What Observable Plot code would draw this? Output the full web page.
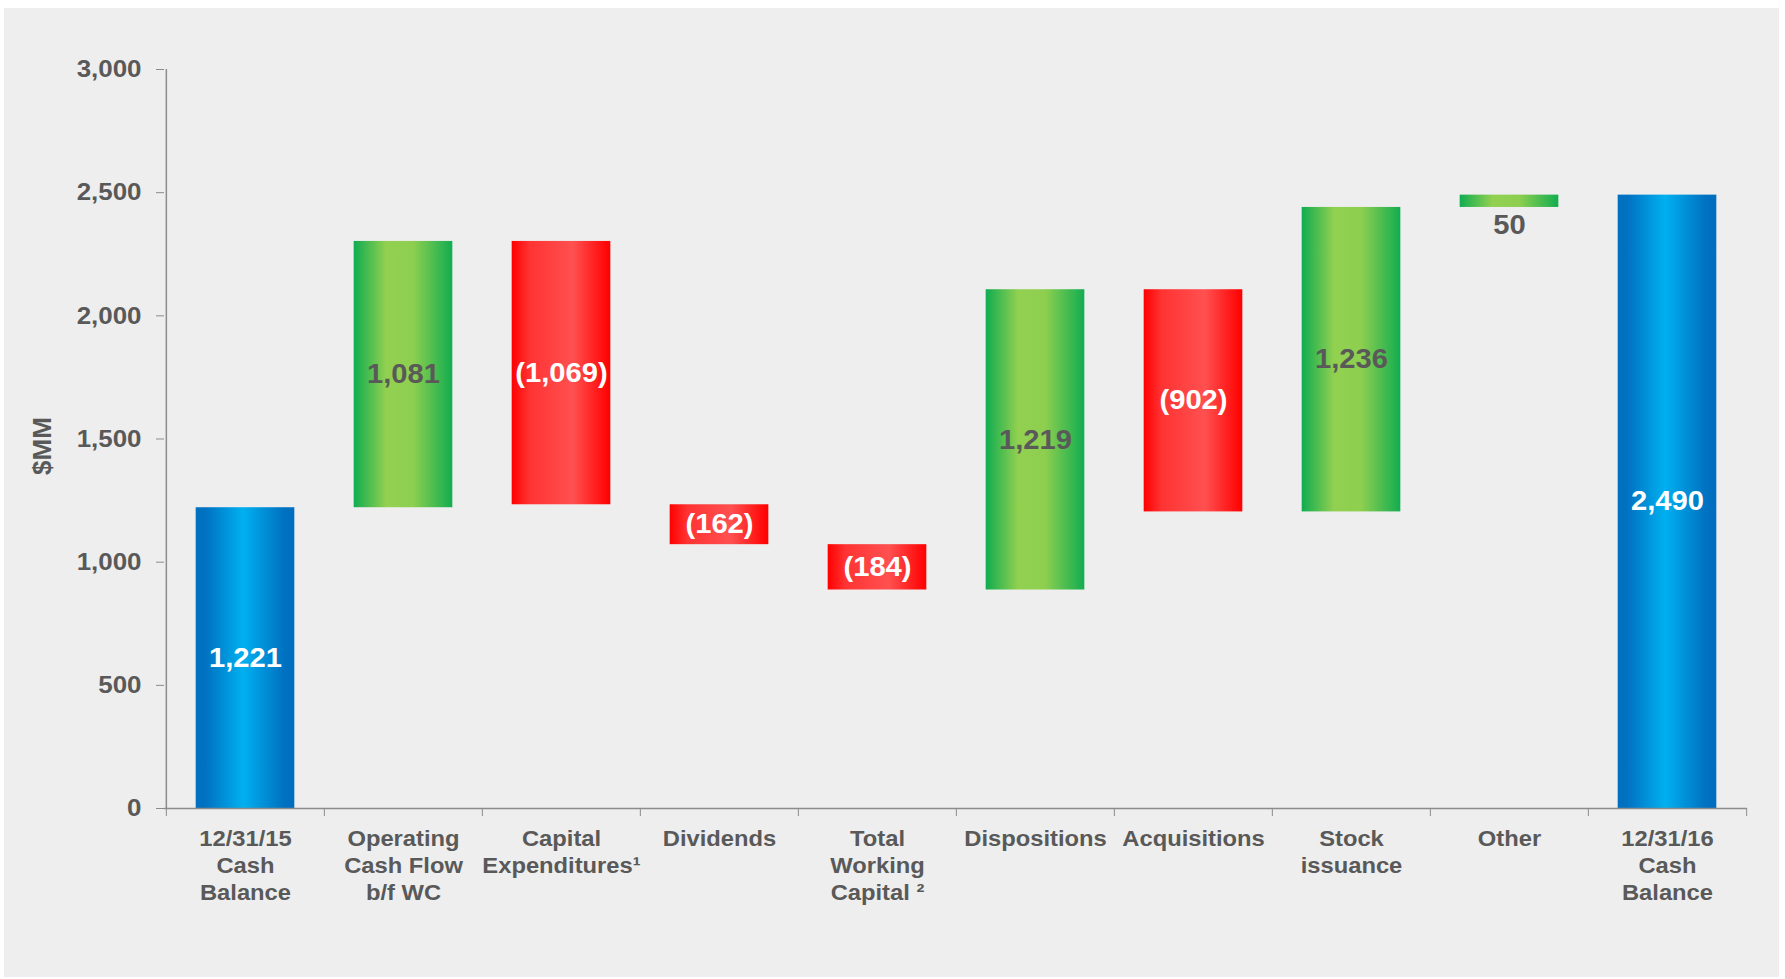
<!DOCTYPE html>
<html><head><meta charset="utf-8">
<script src="https://cdn.jsdelivr.net/npm/d3@7"></script>
<script src="https://cdn.jsdelivr.net/npm/@observablehq/plot@0.6"></script>
<style>
html,body{margin:0;padding:0;background:#fff;overflow:hidden;width:1785px;height:979px;}
#panel{position:absolute;left:4px;top:8px;width:1775px;height:969px;background:#eeeeee;}
#chart{position:absolute;left:0;top:0;}
</style></head><body>
<div id="panel"></div><div id="chart"></div>
<script>
const categories = ["12/31/15\nCash\nBalance","Operating\nCash Flow\nb/f WC","Capital\nExpenditures¹","Dividends","Total\nWorking\nCapital ²","Dispositions","Acquisitions","Stock\nissuance","Other","12/31/16\nCash\nBalance"];
const values = [1221, 1081, -1069, -162, -184, 1219, -902, 1236, 50, 2490];
const kinds = ["total","up","down","down","down","up","down","up","up","total"];
const valueLabels = ["1,221","1,081","(1,069)","(162)","(184)","1,219","(902)","1,236","50","2,490"];
const yTicks = [0, 500, 1000, 1500, 2000, 2500, 3000];
const yDomain = [0, 3000];

const W = 1785, H = 979;
const mL = 164, mR = 38, mT = 69, mB = 171;
const bw = (W - mL - mR) / categories.length;
const inset = bw * 0.1875;
const stretch = 1.08;

let running = 0;
const rows = categories.map((cat, i) => {
  const v = values[i];
  let y1, y2;
  if (kinds[i] === "total") { y1 = 0; y2 = v; running = v; }
  else { y1 = running; y2 = running + v; running += v; }
  return {cat, kind: kinds[i], y1, y2, mid: (y1 + y2) / 2, low: Math.min(y1, y2), label: valueLabels[i], small: Math.abs(v) < 100};
});

const axisColor = "#8c8c8c";
const textColor = "#595959";
const sans = "'Liberation Sans',Arial,sans-serif";

const barOpts = (fill) => ({x: "cat", y1: "y1", y2: "y2", fill, insetLeft: inset, insetRight: inset});
const txtOpts = {x: "cat", y: "mid", text: "label", fontSize: 27, fontWeight: "bold", fontFamily: sans};

const chart = Plot.plot({
  width: W, height: H,
  marginLeft: mL, marginRight: mR, marginTop: mT, marginBottom: mB,
  style: {background: "transparent", fontFamily: sans, overflow: "visible"},
  x: {type: "band", domain: categories, paddingInner: 0, paddingOuter: 0},
  y: {domain: yDomain},
  marks: [
    Plot.barY(rows.filter(d => d.kind === "total"), barOpts("url(#gBlue)")),
    Plot.barY(rows.filter(d => d.kind === "up"), barOpts("url(#gGreen)")),
    Plot.barY(rows.filter(d => d.kind === "down"), barOpts("url(#gRed)")),
    Plot.ruleY([0], {stroke: axisColor, strokeWidth: 1.5}),
    Plot.ruleX([categories[0]], {y1: yDomain[0], y2: yDomain[1], dx: -bw / 2, stroke: axisColor, strokeWidth: 1.5}),
    Plot.axisY({ticks: yTicks, tickFormat: d3.format(","), tickSize: 8, tickPadding: 15, fontSize: 24, fontWeight: "bold", color: textColor, stroke: axisColor, label: null}),
    Plot.axisX({tickSize: 8, tickFormat: () => "", dx: -bw / 2, stroke: axisColor, label: null}),
    Plot.axisX([categories[categories.length - 1]], {tickSize: 8, tickFormat: () => "", dx: bw / 2, stroke: axisColor, label: null}),
    Plot.axisX({tickSize: 0, tickPadding: 18, fontSize: 22, fontWeight: "bold", lineHeight: 1.24, color: textColor, label: null}),
    Plot.text(rows.filter(d => d.kind === "up" && !d.small), {...txtOpts, fill: textColor}),
    Plot.text(rows.filter(d => d.kind !== "up" && !d.small), {...txtOpts, fill: "white"}),
    Plot.text(rows.filter(d => d.small), {...txtOpts, y: "low", lineAnchor: "top", dy: 7, fill: textColor}),
    Plot.text(["$MM"], {frameAnchor: "left", textAnchor: "middle", dx: -122, dy: 7, rotate: -90, fontSize: 26, fontWeight: "bold", fill: textColor, fontFamily: sans, className: "ytitle"})
  ]
});

const svg = d3.select(chart);
const defs = svg.insert("defs", ":first-child");
function grad(id, stops) {
  const g = defs.append("linearGradient").attr("id", id).attr("x1", "0%").attr("x2", "100%").attr("y1", "0%").attr("y2", "0%");
  stops.forEach(([o, c]) => g.append("stop").attr("offset", o).attr("stop-color", c));
}
grad("gBlue", [[0, "#0070C0"], [0.1, "#0072C2"], [0.48, "#00B0F0"], [0.9, "#0070C0"], [1, "#006EBE"]]);
grad("gGreen", [[0, "#0FAC50"], [0.33, "#92D050"], [0.6, "#8ECF4F"], [1, "#12AD50"]]);
grad("gRed", [[0, "#FF0000"], [0.18, "#FF3333"], [0.62, "#FF5050"], [0.92, "#FF1010"], [1, "#FF0000"]]);

// The reference image is slightly stretched horizontally; mimic on upright text
svg.selectAll("text").each(function() {
  const el = d3.select(this);
  if (this.closest(".ytitle")) return;
  const t = el.attr("transform");
  if (t) el.attr("transform", t + ` scale(${stretch},1)`);
  else {
    const x = +el.attr("x") || 0, y = +el.attr("y") || 0;
    el.attr("x", null).attr("y", null).attr("transform", `translate(${x},${y}) scale(${stretch},1)`);
  }
});

document.getElementById("chart").appendChild(chart);
</script>
</body></html>
